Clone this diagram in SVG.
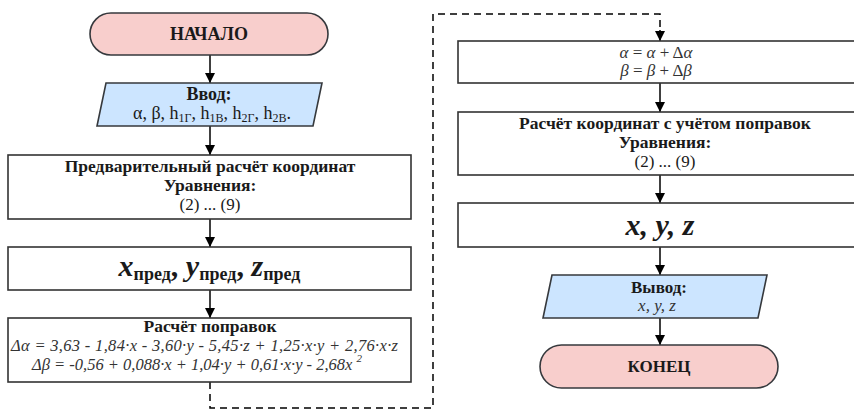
<svg xmlns="http://www.w3.org/2000/svg" width="854" height="410" viewBox="0 0 854 410">
<defs>
<marker id="arr" viewBox="0 0 10 10" refX="10" refY="5" markerWidth="10" markerHeight="10" markerUnits="userSpaceOnUse" orient="auto">
<path d="M0,0 L10,5 L0,10 Z" fill="#000"/>
</marker>
<style>
.term{fill:#f8cecc;stroke:#36393d;stroke-width:1.6}
.io{fill:#cce5ff;stroke:#36393d;stroke-width:1.6}
.proc{fill:#fff;stroke:#333;stroke-width:1.6}
text{font-family:"Liberation Serif","Times New Roman",serif;fill:#1a1a1a;text-anchor:middle}
text.s{text-anchor:start}
.b{font-weight:bold}
.i{font-style:italic}
.g{fill:#333}
.t17{font-size:17px}
.t18{font-size:18px}
.h{font-size:17.5px;font-weight:bold}
.flow{fill:none;stroke:#000;stroke-width:1.5;marker-end:url(#arr)}
.dash{fill:none;stroke:#000;stroke-width:1.5;stroke-dasharray:7,5}
</style>
</defs>
<rect width="854" height="410" fill="#fff"/>
<g id="connectors">
<line class="flow" x1="210" y1="55" x2="210" y2="83"/>
<line class="flow" x1="210" y1="126" x2="210" y2="155"/>
<line class="flow" x1="210" y1="219" x2="210" y2="247"/>
<line class="flow" x1="210" y1="290" x2="210" y2="318"/>
<path class="dash" d="M210,382 V408 H433 V14 H660 V33"/>
<line class="flow" x1="660" y1="30" x2="660" y2="41"/>
<line class="flow" x1="660" y1="83" x2="660" y2="112"/>
<line class="flow" x1="660" y1="175" x2="660" y2="203"/>
<line class="flow" x1="660" y1="247" x2="660" y2="275"/>
<line class="flow" x1="660" y1="318" x2="660" y2="345"/>
</g>
<g id="start">
<rect class="term" x="90" y="13" width="238" height="42" rx="21"/>
<text class="b t18" x="209" y="40">НАЧАЛО</text>
</g>
<g id="input">
<polygon class="io" points="106,83 322,83 313,126 97,126"/>
<text class="b t18" x="209" y="100">Ввод:</text>
<text class="t18" x="212" y="119">α, β, h<tspan font-size="12" dy="3">1Г</tspan><tspan dy="-3">, h</tspan><tspan font-size="12" dy="3">1В</tspan><tspan dy="-3">, h</tspan><tspan font-size="12" dy="3">2Г</tspan><tspan dy="-3">, h</tspan><tspan font-size="12" dy="3">2В</tspan><tspan dy="-3">.</tspan></text>
</g>
<g id="prelim">
<rect class="proc" x="8" y="155" width="403" height="64"/>
<text class="h" x="210" y="172">Предварительный расчёт координат</text>
<text class="h" x="210" y="191">Уравнения:</text>
<text class="t17" x="210" y="210">(2) ... (9)</text>
</g>
<g id="xpred">
<rect class="proc" x="8" y="247" width="403" height="43"/>
<text class="b" x="209.5" y="276" font-size="30"><tspan class="i">x</tspan><tspan font-size="18" dy="4">пред</tspan><tspan dy="-4">, </tspan><tspan class="i">y</tspan><tspan font-size="18" dy="4">пред</tspan><tspan dy="-4">, </tspan><tspan class="i">z</tspan><tspan font-size="18" dy="4">пред</tspan></text>
</g>
<g id="corrections">
<rect class="proc" x="8" y="318" width="403" height="64"/>
<text class="h" x="210" y="332">Расчёт поправок</text>
<text class="i g s" x="11" y="351" font-size="16.5" textLength="387" lengthAdjust="spacing">Δα = 3,63 - 1,84·x - 3,60·y - 5,45·z + 1,25·x·y + 2,76·x·z</text>
<text class="i g s" x="32" y="370" font-size="16.5">Δβ = -0,56 + 0,088·x + 1,04·y + 0,61·x·y - 2,68x <tspan font-size="11" dy="-8">2</tspan></text>
</g>
<g id="update">
<rect class="proc" x="458" y="41" width="414" height="42"/>
<text class="t17 g" x="656" y="58"><tspan class="i">α</tspan> = <tspan class="i">α</tspan> + Δ<tspan class="i">α</tspan></text>
<text class="t17 g" x="656" y="76"><tspan class="i">β</tspan> = <tspan class="i">β</tspan> + Δ<tspan class="i">β</tspan></text>
</g>
<g id="final-calc">
<rect class="proc" x="458" y="112" width="414" height="63"/>
<text class="h" x="665" y="129">Расчёт координат с учётом поправок</text>
<text class="h" x="665" y="148">Уравнения:</text>
<text class="t17" x="665" y="167">(2) ... (9)</text>
</g>
<g id="xyz">
<rect class="proc" x="458" y="203" width="414" height="44"/>
<text class="b i" x="660" y="235" font-size="30">x, y, z</text>
</g>
<g id="output">
<polygon class="io" points="552,275 767,275 758,318 543,318"/>
<text class="b t17" x="659" y="293">Вывод:</text>
<text class="i t17 g" x="657" y="311">x, y, z</text>
</g>
<g id="end">
<rect class="term" x="540" y="345" width="238" height="43" rx="21.5"/>
<text class="b t17" x="659" y="372">КОНЕЦ</text>
</g>
</svg>
